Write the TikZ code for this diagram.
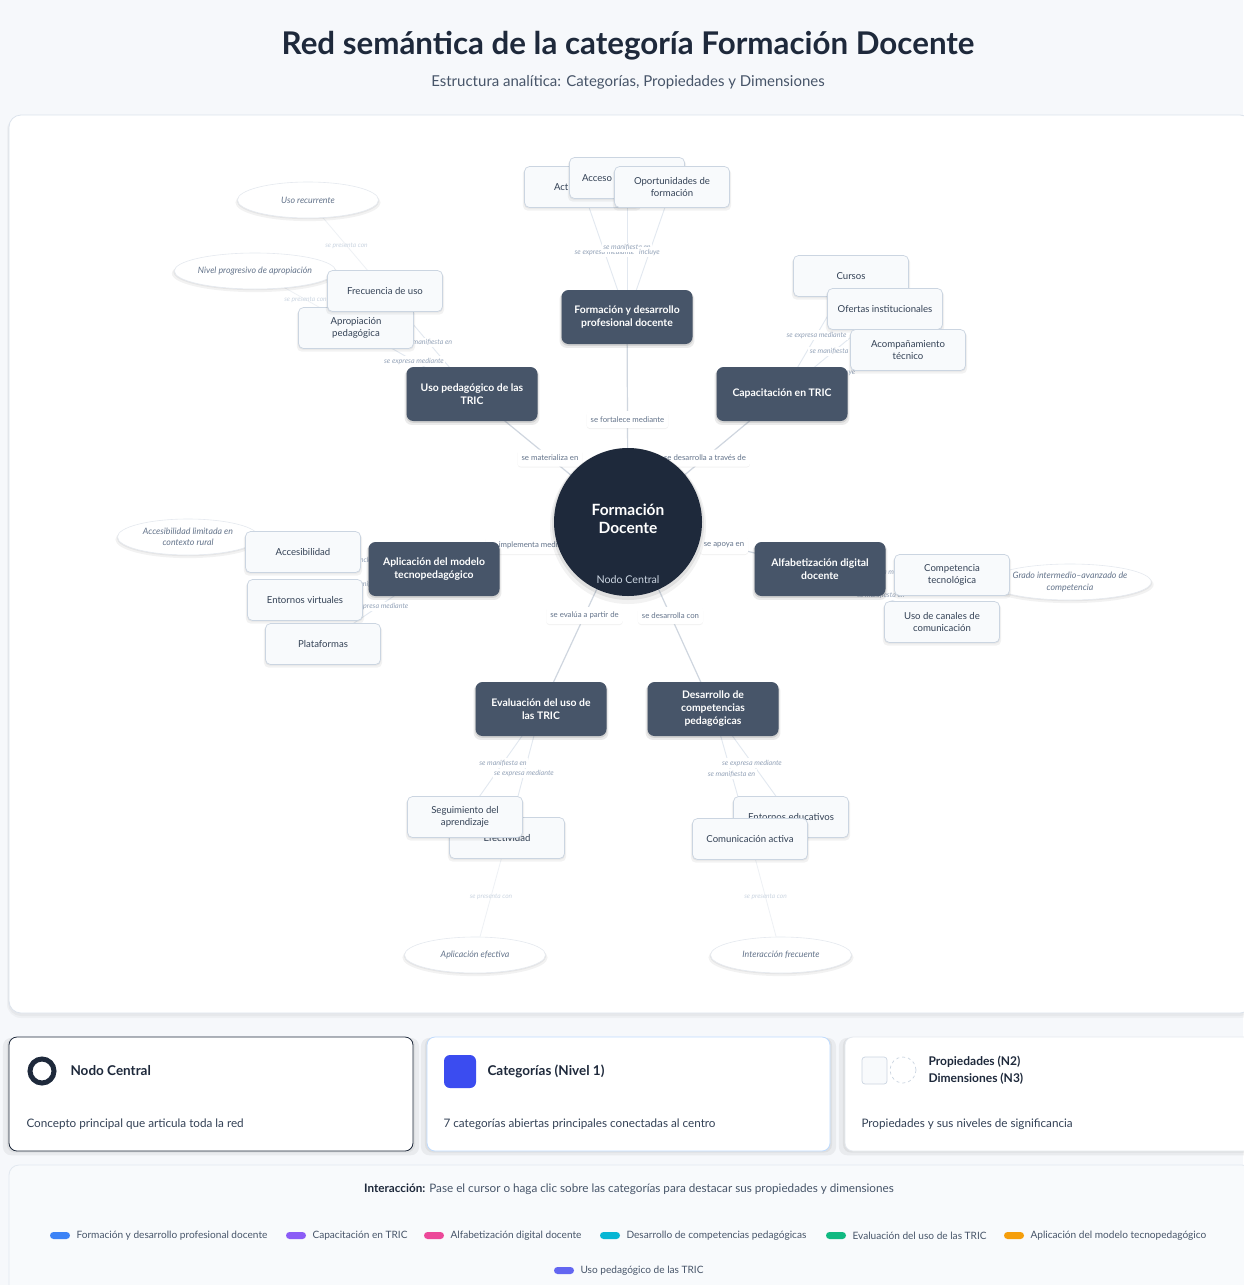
\documentclass[tikz,border=0pt]{standalone}
\usepackage{fontspec}
\setmainfont{Lato}
\usetikzlibrary{shapes.geometric,shadows,calc}
\pgfdeclarelayer{panel}
\pgfdeclarelayer{edges}
\pgfdeclarelayer{labels}
\pgfsetlayers{panel,edges,labels,main}
\definecolor{bgcol}{HTML}{F6F8FB}
\definecolor{panelline}{HTML}{DCE3EC}
\definecolor{ink}{HTML}{1E293B}
\definecolor{slatesix}{HTML}{475569}
\definecolor{slateseven}{HTML}{334155}
\definecolor{catfill}{HTML}{475569}
\definecolor{propfill}{HTML}{F8FAFC}
\definecolor{propline}{HTML}{CBD5E1}
\definecolor{proptext}{HTML}{334155}
\definecolor{dimtext}{HTML}{64748B}
\definecolor{dimline}{HTML}{E5E9EF}
\definecolor{lbltext}{HTML}{64748B}
\definecolor{plbltext}{HTML}{94A3B8}
\definecolor{faintlbl}{HTML}{CBD5E1}
\definecolor{cedgecol}{HTML}{CFD6DF}
\definecolor{pedgecol}{HTML}{E2E8F0}
\definecolor{dedgecol}{HTML}{EEF1F5}
\definecolor{nodolbl}{HTML}{CBD5E1}
\definecolor{bluebox}{HTML}{3B4CF0}
\definecolor{blueline}{HTML}{BFDBFE}
\definecolor{lgone}{HTML}{3B82F6}
\definecolor{lgtwo}{HTML}{8B5CF6}
\definecolor{lgthree}{HTML}{EC4899}
\definecolor{lgfour}{HTML}{06B6D4}
\definecolor{lgfive}{HTML}{10B981}
\definecolor{lgsix}{HTML}{F59E0B}
\definecolor{lgseven}{HTML}{6366F1}
\begin{document}
\begin{tikzpicture}[x=1pt,y=-1pt,
  softshadow/.style={general shadow={fill=black, opacity=0.05, shadow xshift=0pt, shadow yshift=-2.5pt, shadow scale=1.03},
                     general shadow={fill=black, opacity=0.05, shadow xshift=0pt, shadow yshift=-1pt, shadow scale=1.01}},
  darkshadow/.style={general shadow={fill=black, opacity=0.08, shadow xshift=0pt, shadow yshift=-3pt, shadow scale=1.03},
                     general shadow={fill=black, opacity=0.10, shadow xshift=0pt, shadow yshift=-1.5pt, shadow scale=1.01}},
  central/.style={circle, fill=ink, minimum size=148pt, inner sep=0pt},
  cat/.style={rounded corners=7pt, fill=catfill, minimum width=131pt, minimum height=54pt,
    text=white, align=center, inner sep=2pt,
    font=\fontsize{10.4}{13}\selectfont\bfseries, darkshadow},
  prop/.style={rounded corners=5pt, fill=propfill, draw=propline, line width=0.7pt,
    minimum width=115pt, minimum height=41pt, text=proptext, align=center, inner sep=2pt,
    font=\fontsize{9.6}{12.5}\selectfont, softshadow},
  dim/.style={ellipse, fill=white, draw=dimline, line width=0.6pt, minimum width=141pt,
    minimum height=36pt, inner sep=0pt, text=dimtext, align=center,
    font=\fontsize{8.8}{11.5}\selectfont\itshape, softshadow},
  clbl/.style={fill=white, rounded corners=3pt, text=lbltext, inner xsep=4pt, inner ysep=0pt,
    minimum height=17pt, font=\fontsize{7.8}{9}\selectfont,
    general shadow={fill=black, opacity=0.05, shadow xshift=0pt, shadow yshift=-1pt}},
  plbl/.style={fill=white, text=plbltext, inner sep=1.5pt, font=\fontsize{7.1}{8}\selectfont\itshape},
  dlbl/.style={text=faintlbl, inner sep=1pt, font=\fontsize{6.6}{8}\selectfont\itshape},
  cedge/.style={draw=cedgecol, line width=1.2pt},
  pedge/.style={draw=pedgecol, line width=0.9pt},
  dedge/.style={draw=dedgecol, line width=0.8pt},
  lgtext/.style={anchor=west, text=slatesix, font=\fontsize{10.1}{12}\selectfont},
  lgdesc/.style={anchor=west, text=slateseven, font=\fontsize{11.7}{14}\selectfont},
  lghead/.style={anchor=west, text=ink, font=\fontsize{13.5}{16}\selectfont\bfseries},
  pill/.style={rounded corners=3.5pt}
]
\useasboundingbox (0,0) rectangle (1243,1285);

\begin{pgfonlayer}{panel}
\fill[bgcol] (0,0) rectangle (1243,1285);
\fill[black, opacity=0.03, rounded corners=14pt] (7,116) rectangle (1254,1018);
\fill[black, opacity=0.03, rounded corners=13pt] (8,116) rectangle (1253,1016);
\fill[white, rounded corners=12pt] (9,115) rectangle (1252,1013);
\draw[panelline, line width=0.8pt, rounded corners=12pt] (9,115) rectangle (1252,1013);
\end{pgfonlayer}

% title
\node[text=ink, font=\fontsize{31.3}{35}\selectfont\bfseries] (title) at (628,46)
  {Red semántica de la categoría Formación Docente};
\node[text=slatesix, font=\fontsize{15}{18}\selectfont] (subtitle) at (628,82)
  {Estructura analítica: Categorías, Propiedades y Dimensiones};

% central node
\fill[black, opacity=0.05] (628,526) circle[radius=78];
\fill[black, opacity=0.07] (628,524) circle[radius=76];
\node[central] (fd) at (628,522) {};
\node[text=white, align=center, font=\fontsize{15.5}{18}\selectfont\bfseries] (fdt) at (628,519) {Formación\\Docente};
\node[text=nodolbl, font=\fontsize{10.7}{12}\selectfont] (fdn) at (628,580) {Nodo Central};

% categories
\node[cat] (fdp) at (627,317) {Formación y desarrollo\\profesional docente};
\node[cat] (upt) at (472,394) {Uso pedagógico de las\\TRIC};
\node[cat] (cap) at (782,394) {Capacitación en TRIC};
\node[cat] (apm) at (434,569) {Aplicación del modelo\\tecnopedagógico};
\node[cat] (alf) at (820,569) {Alfabetización digital\\docente};
\node[cat] (eva) at (541,709) {Evaluación del uso de\\las TRIC};
\node[cat] (dcp) at (713,709) {Desarrollo de\\competencias\\pedagógicas};

% dimensions (ellipses)
\node[dim] (d1) at (308,200) {Uso recurrente};
\node[dim] (d2) at (255,271) {Nivel progresivo de apropiación};
\node[dim] (d3) at (188,537) {Accesibilidad limitada en\\contexto rural};
\node[dim] (d4) at (1070,582) {Grado intermedio–avanzado de\\competencia};
\node[dim] (d5) at (475,955) {Aplicación efectiva};
\node[dim] (d6) at (781,955) {Interacción frecuente};

% properties
\node[prop] (act) at (582,187) {\makebox[56pt][l]{Act}};
\node[prop] (acc) at (627,178) {\makebox[90pt][l]{Acceso}};
\node[prop] (opo) at (672,187) {Oportunidades de\\formación};
\node[prop] (apro) at (356,328) {Apropiación\\pedagógica};
\node[prop] (frec) at (385,291) {Frecuencia de uso};
\node[prop] (cur) at (851,276) {Cursos};
\node[prop] (ofe) at (885,309) {Ofertas institucionales};
\node[prop] (aco) at (908,350) {Acompañamiento\\técnico};
\node[prop] (acce) at (303,552) {Accesibilidad};
\node[prop] (env) at (305,600) {Entornos virtuales};
\node[prop] (pla) at (323,644) {Plataformas};
\node[prop] (comp) at (952,575) {Competencia\\tecnológica};
\node[prop] (can) at (942,622) {Uso de canales de\\comunicación};
\node[prop] (efe) at (507,838) {Efectividad};
\node[prop] (seg) at (465,817) {Seguimiento del\\aprendizaje};
\node[prop] (ent) at (791,817) {Entornos educativos};
\node[prop] (com) at (750,839) {Comunicación activa};

% connectors
\begin{pgfonlayer}{edges}
\draw[cedge] (fd.center) -- (fdp.center);
\draw[cedge] (fd.center) -- (upt.center);
\draw[cedge] (fd.center) -- (cap.center);
\draw[cedge] (fd.center) -- (apm.center);
\draw[cedge] (fd.center) -- (alf.center);
\draw[cedge] (fd.center) -- (eva.center);
\draw[cedge] (fd.center) -- (dcp.center);
\draw[pedge] (fdp.center) -- (act.center);
\draw[pedge] (fdp.center) -- (acc.center);
\draw[pedge] (fdp.center) -- (opo.center);
\draw[pedge] (upt.center) -- (frec.center);
\draw[pedge] (upt.center) -- (apro.center);
\draw[pedge] (cap.center) -- (cur.center);
\draw[pedge] (cap.center) -- (ofe.center);
\draw[pedge] (cap.center) -- (aco.center);
\draw[pedge] (apm.center) -- (acce.center);
\draw[pedge] (apm.center) -- (env.center);
\draw[pedge] (apm.center) -- (pla.center);
\draw[pedge] (alf.center) -- (comp.center);
\draw[pedge] (alf.center) -- (can.center);
\draw[pedge] (eva.center) -- (seg.center);
\draw[pedge] (eva.center) -- (efe.center);
\draw[pedge] (dcp.center) -- (ent.center);
\draw[pedge] (dcp.center) -- (com.center);
\draw[dedge] (frec.center) -- (d1.center);
\draw[dedge] (apro.center) -- (d2.center);
\draw[dedge] (acce.center) -- (d3.center);
\draw[dedge] (comp.center) -- (d4.center);
\draw[dedge] (efe.center) -- (d5.center);
\draw[dedge] (com.center) -- (d6.center);
\end{pgfonlayer}

% connector labels
\begin{pgfonlayer}{labels}
\node[clbl] (l1) at ($(fd)!0.5!(fdp)$) {se fortalece mediante};
\node[clbl] (l2) at ($(fd)!0.5!(upt)$) {se materializa en};
\node[clbl] (l3) at ($(fd)!0.5!(cap)$) {se desarrolla a través de};
\node[clbl] (l4) at ($(fd)!0.5!(apm)$) {se implementa mediante};
\node[clbl] (l5) at ($(fd)!0.5!(alf)$) {se apoya en};
\node[clbl] (l6) at ($(fd)!0.5!(eva)$) {se evalúa a partir de};
\node[clbl] (l7) at ($(fd)!0.5!(dcp)$) {se desarrolla con};
\node[plbl] (p1) at ($(fdp)!0.5!(act)$) {se expresa mediante};
\node[plbl] (p2) at ($(fdp)!0.5!(acc)$) {se manifiesta en};
\node[plbl] (p3) at ($(fdp)!0.5!(opo)$) {incluye};
\node[plbl] (p4) at ($(upt)!0.5!(frec)$) {se manifiesta en};
\node[plbl] (p5) at ($(upt)!0.5!(apro)$) {se expresa mediante};
\node[plbl] (p6) at ($(cap)!0.5!(cur)$) {se expresa mediante};
\node[plbl] (p7) at ($(cap)!0.5!(ofe)$) {se manifiesta en};
\node[plbl] (p8) at ($(cap)!0.5!(aco)$) {incluye};
\node[plbl] (p9) at ($(apm)!0.5!(acce)$) {incluye};
\node[plbl] (p10) at ($(apm)!0.5!(env)$) {se manifiesta en};
\node[plbl] (p11) at ($(apm)!0.5!(pla)$) {se expresa mediante};
\node[plbl] (p12) at ($(alf)!0.5!(comp)$) {se expresa mediante};
\node[plbl] (p13) at ($(alf)!0.5!(can)$) {se manifiesta en};
\node[plbl] (p14) at ($(eva)!0.5!(seg)$) {se manifiesta en};
\node[plbl] (p15) at ($(eva)!0.5!(efe)$) {se expresa mediante};
\node[plbl] (p16) at ($(dcp)!0.5!(ent)$) {se expresa mediante};
\node[plbl] (p17) at ($(dcp)!0.5!(com)$) {se manifiesta en};
\node[dlbl] (q1) at ($(frec)!0.5!(d1)$) {se presenta con};
\node[dlbl] (q2) at ($(apro)!0.5!(d2)$) {se presenta con};
\node[dlbl] (q3) at ($(efe)!0.5!(d5)$) {se presenta con};
\node[dlbl] (q4) at ($(com)!0.5!(d6)$) {se presenta con};
\end{pgfonlayer}

% legend cards
\draw[ink, line width=0.8pt, rounded corners=8pt, fill=white, softshadow] (9,1037) rectangle (413,1151);
\draw[ink, line width=5pt] (42,1071) circle[radius=12];
\node[lghead] (lgh1) at (67,1071) {Nodo Central};
\node[lgdesc] (lgd1) at (23,1124) {Concepto principal que articula toda la red};

\draw[blueline, line width=0.8pt, rounded corners=8pt, fill=white, softshadow] (427,1037) rectangle (830,1151);
\fill[bluebox, rounded corners=6pt] (444,1055) rectangle (476,1088);
\node[lghead] (lgh2) at (484,1071) {Categorías (Nivel 1)};
\node[lgdesc] (lgd2) at (440,1124) {7 categorías abiertas principales conectadas al centro};

\draw[dimline, line width=0.8pt, rounded corners=8pt, fill=white, softshadow] (845,1037) rectangle (1252,1151);
\draw[propline, fill=propfill, rounded corners=3pt, line width=0.7pt] (862,1057) rectangle (887,1084);
\draw[propline, fill=white, dashed, line width=0.7pt] (903,1070) circle[radius=13];
\node[lghead, font=\fontsize{12}{14}\selectfont\bfseries] (lgh3) at (925,1062) {Propiedades (N2)};
\node[lghead, font=\fontsize{12}{14}\selectfont\bfseries] (lgh4) at (925,1079) {Dimensiones (N3)};
\node[lgdesc] (lgd3) at (858,1124) {Propiedades y sus niveles de significancia};

% interaction panel
\draw[pedgecol, line width=0.8pt, rounded corners=10pt, fill=propfill] (9,1165) rectangle (1252,1300);
\node[text=slatesix, font=\fontsize{11.7}{14}\selectfont] (inter) at (629,1189)
  {\textcolor{ink}{\bfseries Interacción:} Pase el cursor o haga clic sobre las categorías para destacar sus propiedades y dimensiones};
\fill[lgone, pill] (50,1232) rectangle (70,1239);
\node[lgtext] (k1) at (73,1235.5) {Formación y desarrollo profesional docente};
\fill[lgtwo, pill] (286,1232) rectangle (306,1239);
\node[lgtext] (k2) at (309,1235.5) {Capacitación en TRIC};
\fill[lgthree, pill] (424,1232) rectangle (444,1239);
\node[lgtext] (k3) at (447,1235.5) {Alfabetización digital docente};
\fill[lgfour, pill] (600,1232) rectangle (620,1239);
\node[lgtext] (k4) at (623,1235.5) {Desarrollo de competencias pedagógicas};
\fill[lgfive, pill] (826,1232) rectangle (846,1239);
\node[lgtext] (k5) at (849,1235.5) {Evaluación del uso de las TRIC};
\fill[lgsix, pill] (1004,1232) rectangle (1024,1239);
\node[lgtext] (k6) at (1027,1235.5) {Aplicación del modelo tecnopedagógico};
\fill[lgseven, pill] (554,1267) rectangle (574,1274);
\node[lgtext] (k7) at (577,1270.5) {Uso pedagógico de las TRIC};
\end{tikzpicture}
\end{document}
